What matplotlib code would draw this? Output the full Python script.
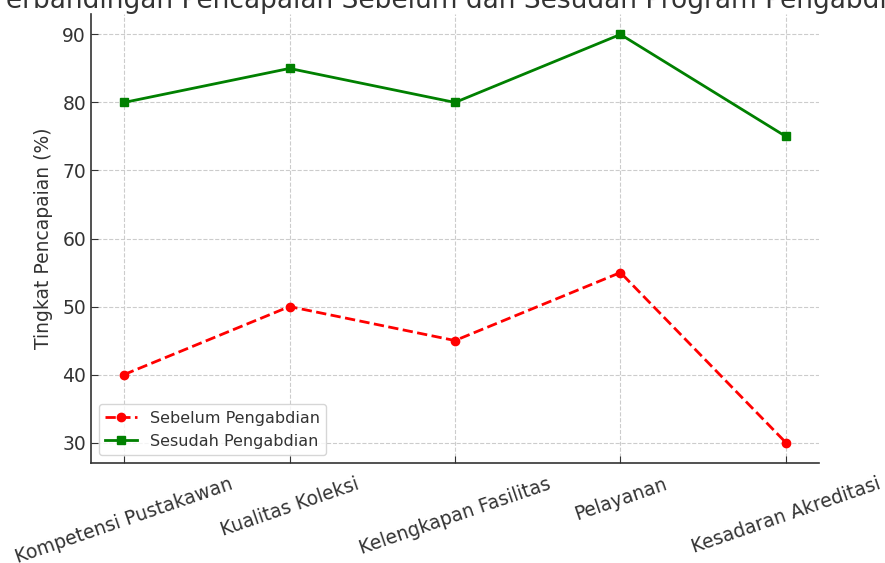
import matplotlib.pyplot as plt

# data
categories = ['Kompetensi Pustakawan', 'Kualitas Koleksi', 'Kelengkapan Fasilitas',
              'Pelayanan', 'Kesadaran Akreditasi']
sebelum = [40, 50, 45, 55, 30]
sesudah = [80, 85, 80, 90, 75]

txt = '#333333'
plt.rcParams['text.color'] = txt
plt.rcParams['axes.labelcolor'] = txt
plt.rcParams['xtick.color'] = txt
plt.rcParams['ytick.color'] = txt

fig = plt.figure(figsize=(8.85, 5.63), dpi=100)
ax = fig.add_axes([0.1028, 0.1776, 0.8226, 0.7975])

x = range(len(categories))
ax.plot(x, sebelum, color='red', linestyle='--', marker='o', linewidth=2, markersize=6,
        label='Sebelum Pengabdian')
ax.plot(x, sesudah, color='green', linestyle='-', marker='s', linewidth=2, markersize=6,
        label='Sesudah Pengabdian')

ax.set_title('Perbandingan Pencapaian Sebelum dan Sesudah Program Pengabdian', fontsize=19, pad=1)
ax.set_ylabel('Tingkat Pencapaian (%)', fontsize=13.5, labelpad=7)
ax.set_xticks(list(x))
ax.set_xticklabels(categories, rotation=19, fontsize=13.5)
ax.tick_params(axis='y', labelsize=13.5)
ax.tick_params(direction='in', length=5, colors='#333333')
ax.tick_params(axis='x', pad=8)
ax.set_yticks([30, 40, 50, 60, 70, 80, 90])

ax.grid(True, linestyle='--', color='#cccccc', linewidth=0.8)
for s in ['top', 'right']:
    ax.spines[s].set_visible(False)
for s in ['left', 'bottom']:
    ax.spines[s].set_color('#333333')
    ax.spines[s].set_linewidth(1.2)

ax.legend(loc='lower left', fontsize=11.5)

fig.savefig('out.png', dpi=100)
